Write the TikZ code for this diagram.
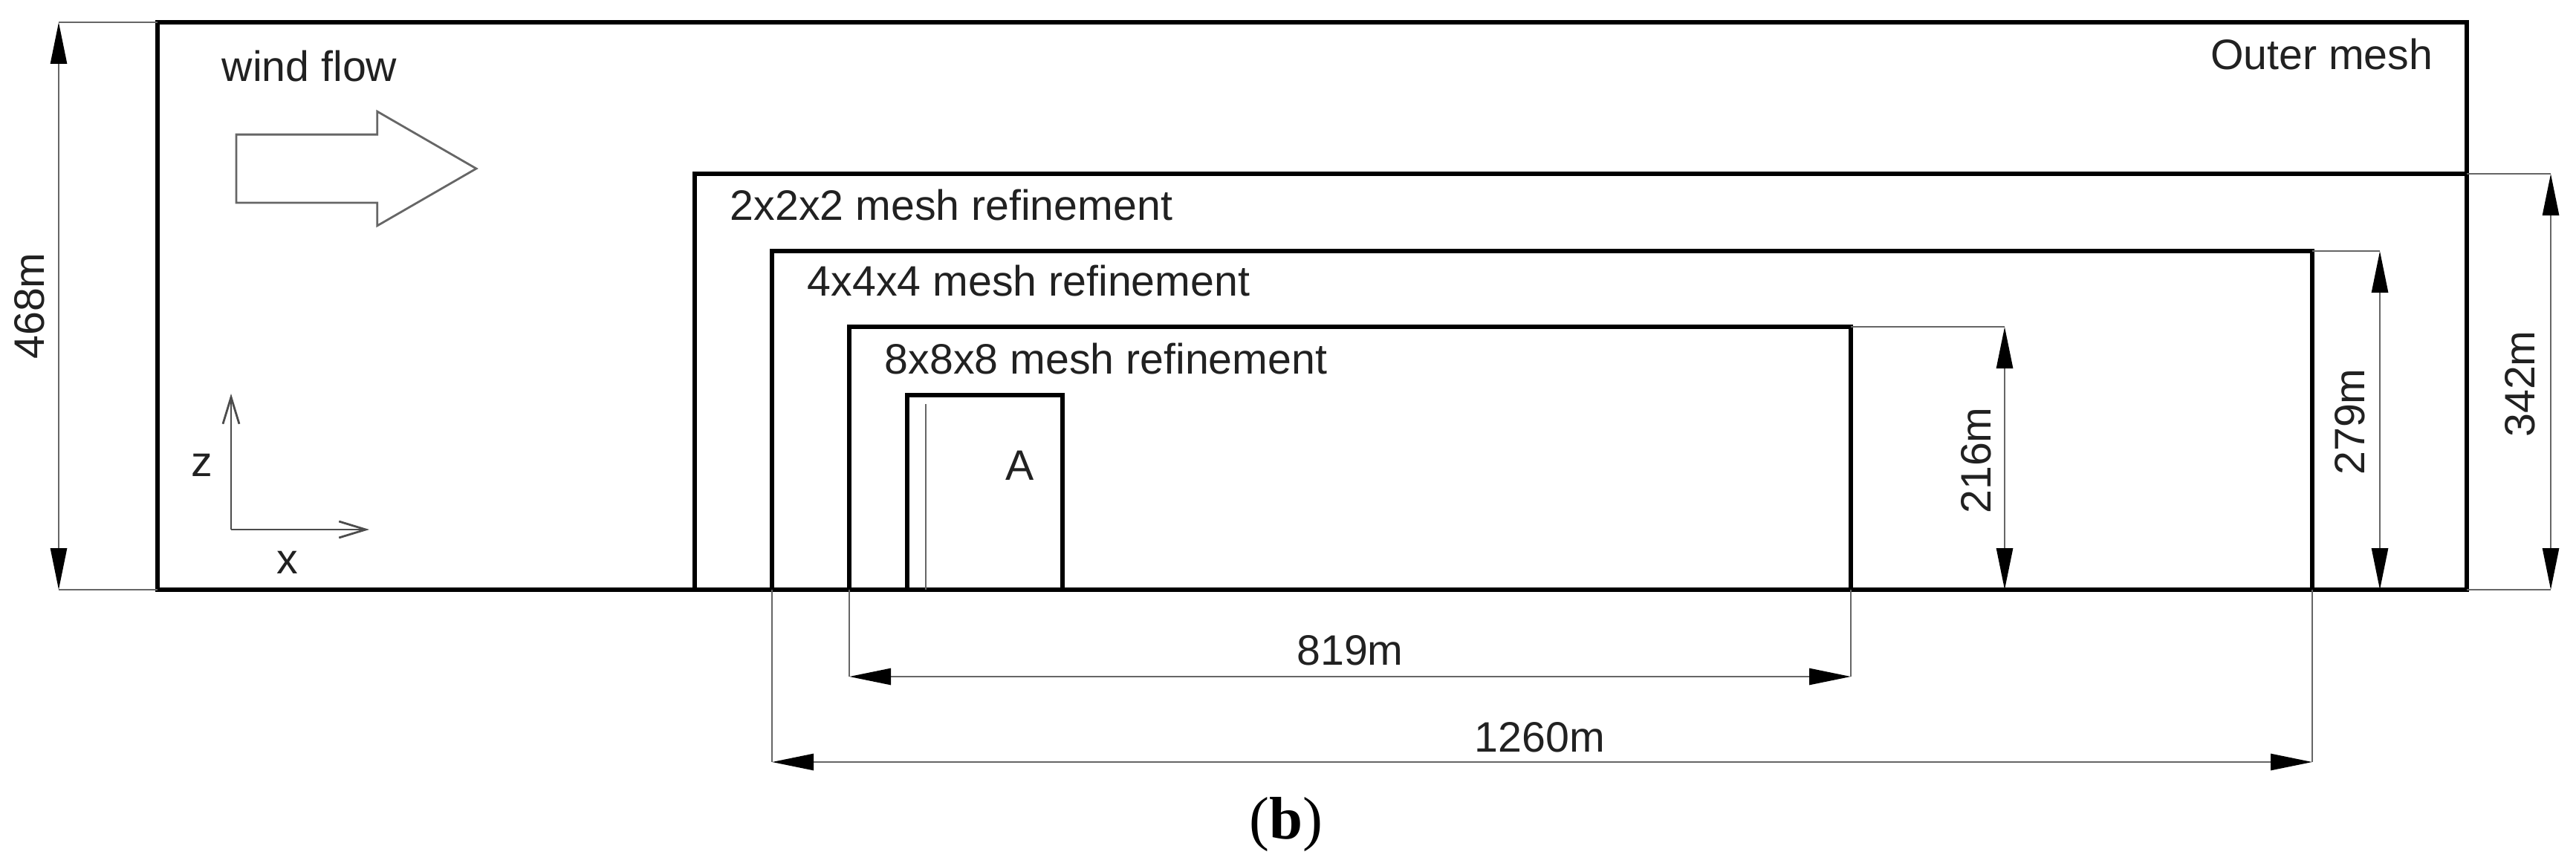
\documentclass[tikz,border=0pt]{standalone}
\usepackage{fontspec}
\setmainfont{Liberation Sans}
\newfontfamily\capfont{Liberation Serif}
\usetikzlibrary{shapes.arrows,arrows.meta}
\definecolor{inkgray}{gray}{0.13}
\tikzstyle{meshbox} = [rectangle, draw=black, line width=0.065cm, inner sep=0pt, outer sep=0pt]
\tikzstyle{label} = [text=inkgray, inner sep=0pt, font=\fontsize{16.3}{19}\selectfont]
\tikzstyle{thinline} = [draw=black!60, line width=0.028cm]
\tikzstyle{dimarrow} = [thinline,{Triangle[length=0.56cm,width=0.22cm,black]}-{Triangle[length=0.56cm,width=0.22cm,black]}]
\tikzstyle{axisarrow} = [draw=black!70, line width=0.028cm,-{Straight Barb[length=0.36cm,width=0.22cm]}]
\begin{document}
\begin{tikzpicture}
\useasboundingbox (0,0) rectangle (34.67,11.65);
\node[meshbox,minimum width=31.08cm,minimum height=7.64cm] (outer) at (17.66,7.53) {};
\node[meshbox,minimum width=23.85cm,minimum height=5.60cm,anchor=south east] (ref2) at (outer.south east) {};
\node[meshbox,minimum width=20.73cm,minimum height=4.56cm,anchor=south west] (ref4) at (outer.south west) [xshift=8.27cm] {};
\node[meshbox,minimum width=13.48cm,minimum height=3.54cm,anchor=south west] (ref8) at (ref4.south west) [xshift=1.04cm] {};
\node[meshbox,minimum width=2.09cm,minimum height=2.62cm,anchor=south west] (bldg) at (ref8.south west) [xshift=0.78cm] {};
% line inside the building
\coordinate (bldgb) at ([xshift=0.25cm]bldg.south west);
\coordinate (bldgt) at ([xshift=0.25cm,yshift=2.50cm]bldg.south west);
\draw[thinline] (bldgb) -- (bldgt);
% wind arrow
\node[single arrow,draw=black!60,line width=0.028cm,inner sep=0pt,outer sep=0pt,
      text height=0.89cm,text depth=0pt,text width=0pt,
      minimum height=3.23cm,minimum width=1.51cm,single arrow head extend=0.31cm,
      single arrow tip angle=60,anchor=tail] (wind) at (outer.north west) [xshift=1.06cm,yshift=-1.97cm] {};
% axes
\coordinate (axo) at ([xshift=0.99cm,yshift=0.81cm]outer.south west);
\coordinate (axz) at ([yshift=1.83cm]axo);
\coordinate (axx) at ([xshift=1.86cm]axo);
\draw[axisarrow] (axo) -- (axz);
\draw[axisarrow] (axo) -- (axx);
% dimension ends
\coordinate (t468) at ([xshift=-1.33cm]outer.north west);
\coordinate (b468) at ([xshift=-1.33cm]outer.south west);
\coordinate (t342) at ([xshift=1.13cm]ref2.north east);
\coordinate (b342) at ([xshift=1.13cm]ref2.south east);
\coordinate (t279) at ([xshift=0.91cm]ref4.north east);
\coordinate (b279) at ([xshift=0.91cm]ref4.south east);
\coordinate (t216) at ([xshift=2.07cm]ref8.north east);
\coordinate (b216) at ([xshift=2.07cm]ref8.south east);
\coordinate (l819) at ([yshift=-1.17cm]ref8.south west);
\coordinate (r819) at ([yshift=-1.17cm]ref8.south east);
\coordinate (l1260) at ([yshift=-2.32cm]ref4.south west);
\coordinate (r1260) at ([yshift=-2.32cm]ref4.south east);
\draw[thinline] (outer.north west) -- (t468);
\draw[thinline] (outer.south west) -- (b468);
\draw[thinline] (ref2.north east) -- (t342);
\draw[thinline] (ref2.south east) -- (b342);
\draw[thinline] (ref4.north east) -- (t279);
\draw[thinline] (ref8.north east) -- (t216);
\draw[thinline] (ref8.south west) -- (l819);
\draw[thinline] (ref8.south east) -- (r819);
\draw[thinline] (ref4.south west) -- (l1260);
\draw[thinline] (ref4.south east) -- (r1260);
\draw[dimarrow] (t468) -- (b468);
\draw[dimarrow] (t342) -- (b342);
\draw[dimarrow] (t279) -- (b279);
\draw[dimarrow] (t216) -- (b216);
\draw[dimarrow] (l819) -- (r819);
\draw[dimarrow] (l1260) -- (r1260);
% texts
\node[label,anchor=west] (windtxt) at (outer.north west) [xshift=0.86cm,yshift=-0.59cm] {wind flow};
\node[label,anchor=east] (outertxt) at (outer.north east) [xshift=-0.45cm,yshift=-0.43cm] {Outer mesh};
\node[label,anchor=west] (txt2) at (ref2.north west) [xshift=0.47cm,yshift=-0.42cm] {2x2x2 mesh refinement};
\node[label,anchor=west] (txt4) at (ref4.north west) [xshift=0.47cm,yshift=-0.40cm] {4x4x4 mesh refinement};
\node[label,anchor=west] (txt8) at (ref8.north west) [xshift=0.47cm,yshift=-0.43cm] {8x8x8 mesh refinement};
\node[label] (txtA) at (bldg.south west) [xshift=1.52cm,yshift=1.67cm] {A};
\node[label] (txtz) at (axo) [xshift=-0.39cm,yshift=0.87cm] {z};
\node[label] (txtx) at (axo) [xshift=0.76cm,yshift=-0.44cm] {x};
\node[label,xshift=-1.72cm,rotate=90] (txt468) at (outer.west) {468m};
\node[label,xshift=0.72cm,yshift=-0.03cm,rotate=90] (txt342) at (ref2.east) {342m};
\node[label,xshift=0.51cm,yshift=-0.02cm,rotate=90] (txt279) at (ref4.east) {279m};
\node[label,xshift=1.69cm,yshift=-0.03cm,rotate=90] (txt216) at (ref8.east) {216m};
\node[label] (txt819) at (ref8.south) [yshift=-0.82cm] {819m};
\node[label] (txt1260) at (ref4.south) [xshift=-0.03cm,yshift=-1.99cm] {1260m};
\node[inner sep=0pt,font=\capfont\fontsize{23}{27}\selectfont] (cap) at (ref8.south) [xshift=-0.86cm,yshift=-3.16cm] {(\textbf{b})};
\end{tikzpicture}
\end{document}
